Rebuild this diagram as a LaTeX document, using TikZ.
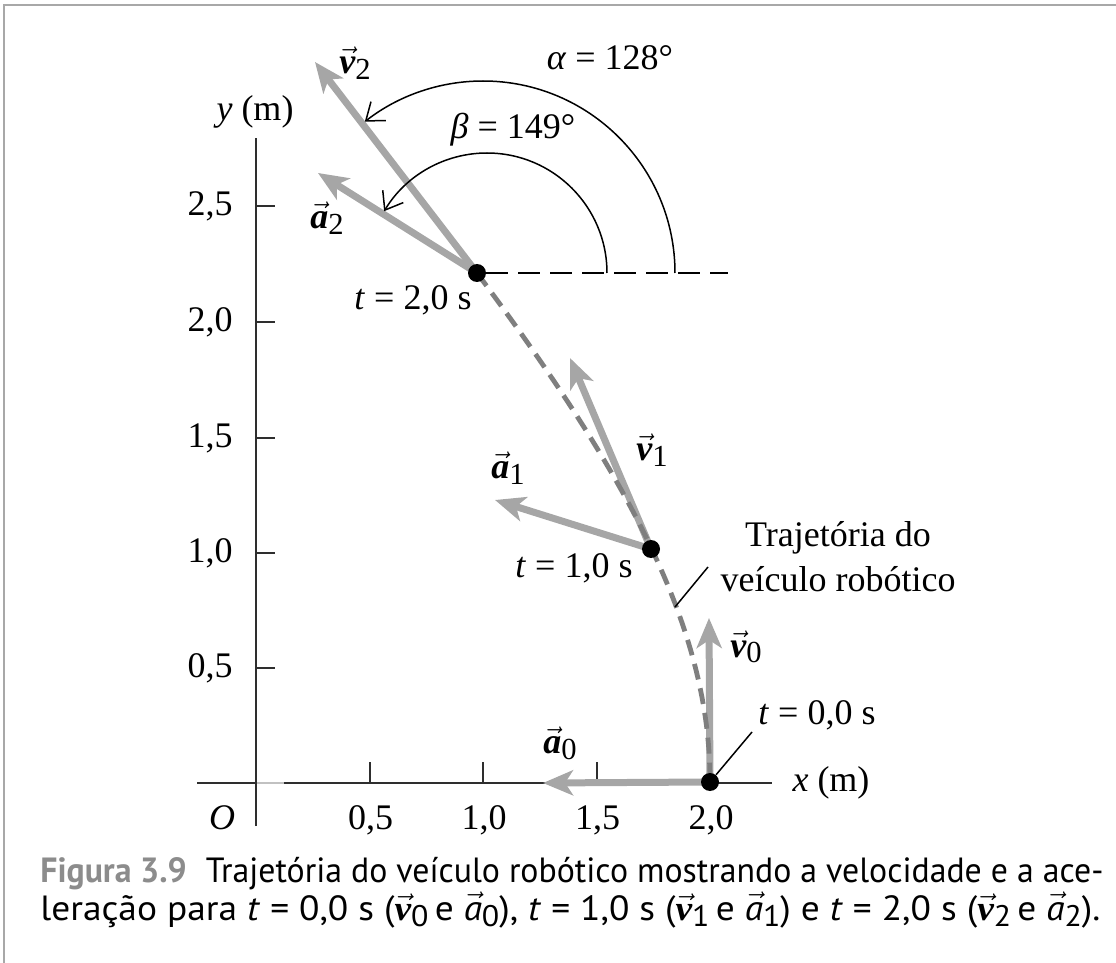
\documentclass[tikz,border=0pt]{standalone}
\usepackage{fontspec}
\setmainfont{Liberation Serif}
\setsansfont{PT Sans}
\usetikzlibrary{arrows.meta}
\definecolor{vecgray}{HTML}{A6A6A6}
\definecolor{trajgray}{HTML}{7F7F7F}
\definecolor{framegray}{HTML}{A8A8A8}
\definecolor{capgray}{HTML}{8C8C8C}
\definecolor{axisgray}{HTML}{2E2E2E}
\newcommand\vecv{\ensuremath{\vec{\hbox{\rmfamily\bfseries\itshape v}}}}
\newcommand\veca{\ensuremath{\vec{\hbox{\rmfamily\bfseries\itshape a}}}}
\newcommand\capa{\ensuremath{\vec{\hbox{\sffamily\itshape a}}}}
\newcommand\lowidx[1]{\raisebox{-0.35ex}{\scalebox{0.85}{#1}}}
\tikzset{
  axisline/.style={draw=axisgray, line width=1pt},
  tickline/.style={draw=axisgray, line width=1pt},
  vecarrow/.style={draw=vecgray, line width=3.5pt, -{Stealth[length=15pt,width=12.5pt,inset=4pt]}},
  traj/.style={draw=trajgray, line width=2.4pt, dash pattern=on 8pt off 4.5pt},
  dot/.style={circle, fill=black, inner sep=0pt, minimum size=9pt},
  lbl/.style={font=\fontsize{18}{22.5}\selectfont, inner sep=0pt},
  anglearc/.style={draw=black, line width=0.75pt, -{Straight Barb[length=8pt,width=12pt]}},
  refline/.style={draw=black, line width=0.75pt, dash pattern=on 11pt off 5pt},
  leader/.style={draw=black, line width=0.75pt},
  framebox/.style={draw=framegray, line width=1pt},
  caption/.style={font=\sffamily\fontsize{17.5}{20}\selectfont, inner sep=0pt, anchor=base west},
}
\begin{document}
\begin{tikzpicture}[x=0.5pt, y=-0.5pt]
\useasboundingbox (0,0) rectangle (1116,963);
% frame
\coordinate (fbl) at (4,963); \coordinate (ftl) at (4,5); \coordinate (ftr) at (1116,5);
\draw[framebox] (fbl) -- (ftl) -- (ftr);
% axes
\coordinate (xl) at (197,783); \coordinate (xr) at (772,783);
\coordinate (yb) at (256,826); \coordinate (yt) at (256,138);
\draw[axisline] (xl) -- (xr);
\draw[axisline] (yb) -- (yt);
\coordinate (stubA) at (257,783); \coordinate (stubB) at (284,783);
\draw[draw=vecgray!70, line width=1.3pt] (stubA) -- (stubB);
% ticks and labels
\foreach \px/\t in {369.5/{0,5}, 483/{1,0}, 596.5/{1,5}, 710/{2,0}} {
  \coordinate (xt) at (\px,783);
  \draw[tickline] (xt) -- ++(0,-21);
  \node[lbl] at (\px+1,820) {\t};
}
\foreach \py/\t in {668/{0,5}, 553/{1,0}, 438/{1,5}, 322/{2,0}, 206/{2,5}} {
  \coordinate (yt) at (256,\py);
  \draw[tickline] (yt) -- ++(19,0);
  \node[lbl] at (210,\py) {\t};
}
\node[lbl] (origin) at (222,818) {\textit{O}};
\node[lbl] (ylab) at (255,112) {\textit{y} (m)};
\node[lbl] (xlab) at (831,783) {\textit{x} (m)};
% points
\coordinate (c0) at (710,782);
\coordinate (c1) at (651,549);
\coordinate (c2) at (477,273);
% vector tips
\coordinate (v0t) at (709,618);
\coordinate (a0t) at (543,783);
\coordinate (v1t) at (570,358);
\coordinate (a1t) at (495,500);
\coordinate (v2t) at (315,62);
\coordinate (a2t) at (318,173);
\draw[vecarrow] (c0) -- (a0t);
\draw[vecarrow] (c0) -- (v0t);
\draw[vecarrow] (c1) -- (a1t);
\draw[vecarrow] (c1) -- (v1t);
\draw[vecarrow] (c2) -- (a2t);
\draw[vecarrow] (c2) -- (v2t);
% trajectory
\draw[traj] plot[domain=2:0, samples=50, variable=\t] ({710-58.25*\t*\t}, {781-224.7*\t-7.33*\t*\t*\t});
% dots
\node[dot] (p0) at (c0) {};
\node[dot] (p1) at (c1) {};
\node[dot] (p2) at (c2) {};
% reference line and angle arcs
\coordinate (h2) at (728,273);
\draw[refline] (p2) -- (h2);
\coordinate (bstart) at (607,273);
\coordinate (astart) at (675,273);
\draw[anglearc] (bstart) arc[start angle=0, end angle=-149, radius=120];
\draw[anglearc] (astart) arc[start angle=0, end angle=-128, radius=192];
\node[lbl] (alab) at (610,58) {\textit{α} = 128°};
\node[lbl] (blab) at (513,130) {\textit{β} = 149°};
% vector labels
\node[lbl] (v2lab) at (355,63) {\vecv\lowidx{2}};
\node[lbl] (a2lab) at (327,218) {\veca\lowidx{2}};
\node[lbl] (t2lab) at (413,300) {\textit{t} = 2,0 s};
\node[lbl] (v1lab) at (652,450) {\vecv\lowidx{1}};
\node[lbl] (a1lab) at (508,468) {\veca\lowidx{1}};
\node[lbl] (t1lab) at (574,568) {\textit{t} = 1,0 s};
\node[lbl] (v0lab) at (746,647) {\vecv\lowidx{0}};
\node[lbl] (a0lab) at (560,743) {\veca\lowidx{0}};
\node[lbl] (t0lab) at (817,715) {\textit{t} = 0,0 s};
\node[lbl, align=center] (trajlab) at (838,557) {Trajetória do\\veículo robótico};
% leaders
\coordinate (l1a) at (708,567); \coordinate (l1b) at (675,607);
\draw[leader] (l1a) -- (l1b);
\coordinate (l0a) at (752,732);
\draw[leader] (l0a) -- (p0);
% caption
\node[caption] (cap1) at (40,882) {\resizebox{531.5pt}{\height}{{\bfseries\color{capgray}Figura 3.9}\hspace{0.3em} Trajetória do veículo robótico mostrando a velocidade e a ace-}};
\node[caption] (cap2) at (40,920) {\resizebox{530pt}{\height}{leração para \textit{t} = 0,0 s (\vecv\lowidx{0}\,e \capa\lowidx{0}), \textit{t} = 1,0 s (\vecv\lowidx{1}\,e \capa\lowidx{1}) e \textit{t} = 2,0 s (\vecv\lowidx{2}\,e \capa\lowidx{2}).}};
\end{tikzpicture}
\end{document}
